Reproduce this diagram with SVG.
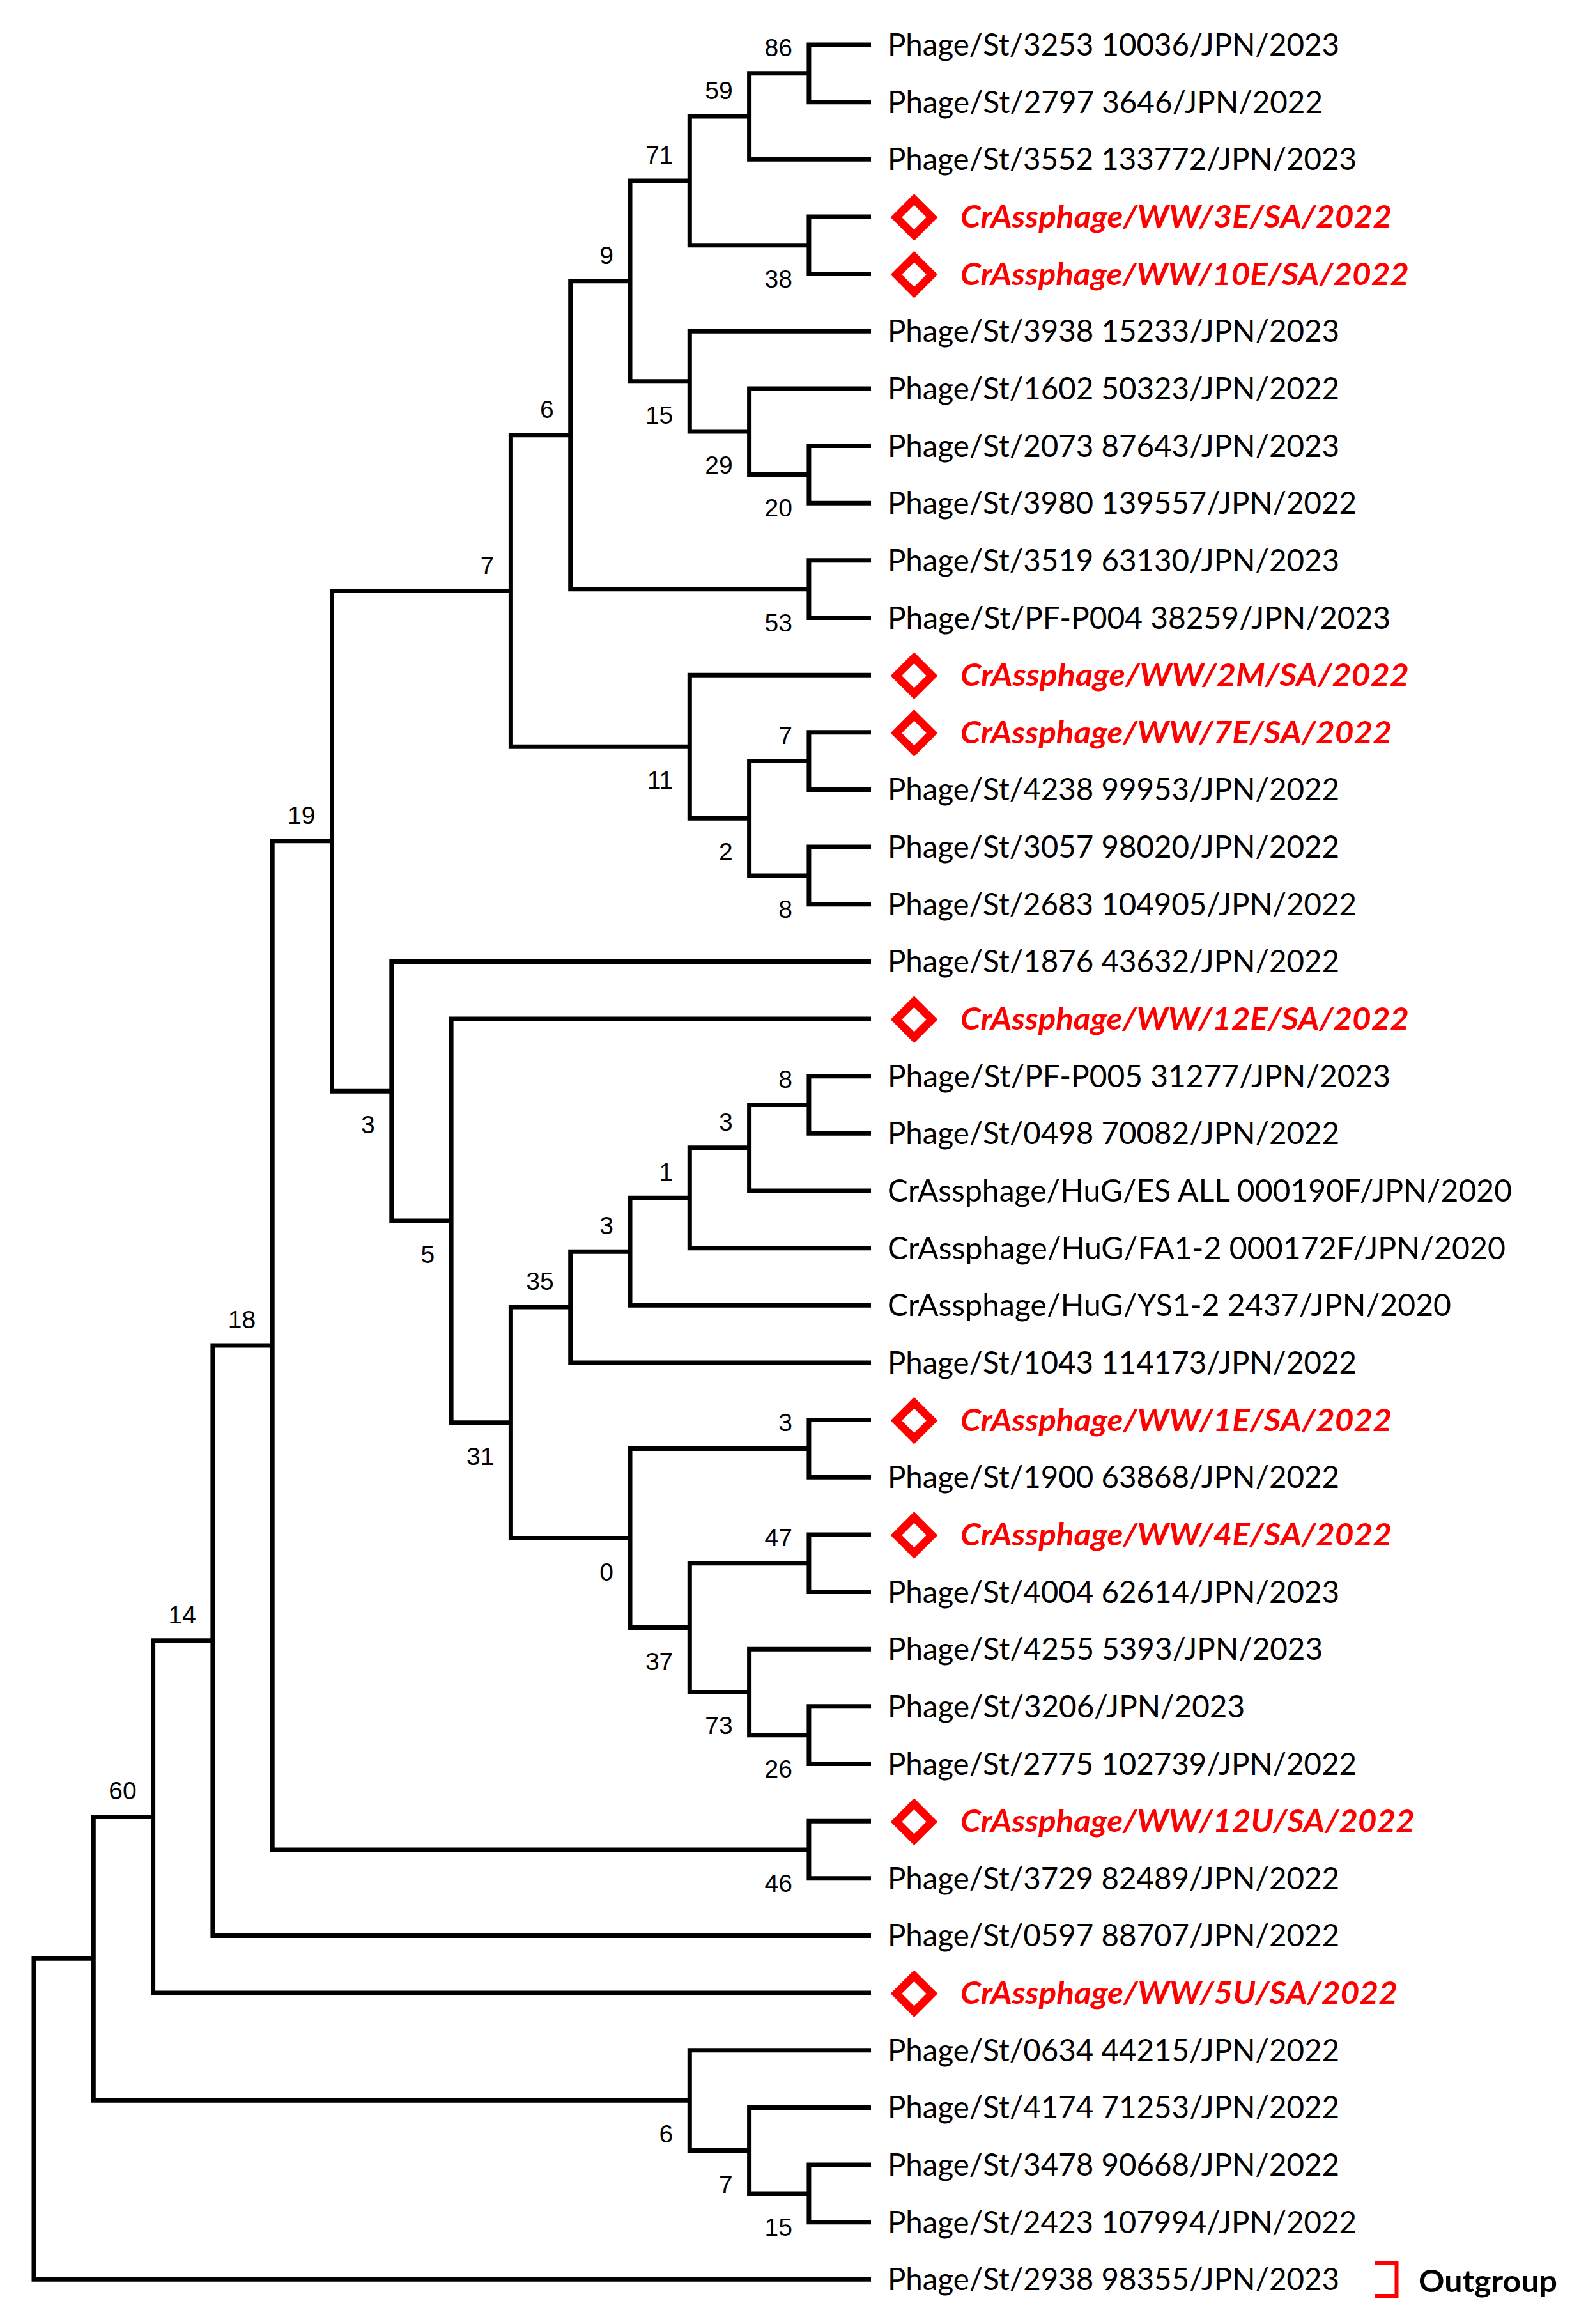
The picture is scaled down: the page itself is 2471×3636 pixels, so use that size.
<svg xmlns="http://www.w3.org/2000/svg" width="2471" height="3636" viewBox="0 0 2471 3636">
<style>
.br{fill:none;stroke:#000;stroke-width:7;stroke-linejoin:miter;stroke-linecap:butt}
.lf{font-family:Lato,"Liberation Sans",sans-serif;font-size:48px;fill:#000}
.rd{font-family:Lato,"Liberation Sans",sans-serif;font-size:48px;font-weight:bold;font-style:italic;fill:#ff0000}
.bs{font-family:"Liberation Sans",Arial,sans-serif;font-size:39px;fill:#000;text-anchor:end}
.dm{fill:none;stroke:#ff0000;stroke-width:12.5;stroke-linejoin:miter}
.og{font-family:Lato,"Liberation Sans",sans-serif;font-size:48px;font-weight:bold;fill:#000}
</style>
<defs>
<path id="dia" class="dm" d="M0 -28 L28 0 L0 28 L-28 0 Z"/>
</defs>
<rect width="2471" height="3636" fill="#fff"/>
<g id="connectors">
<path class="br" d="M1363 70 H1265.9 V159.65 H1363"/>
<path class="br" d="M1265.9 114.8 H1172.6 V249.3 H1363"/>
<path class="br" d="M1363 338.95 H1265.9 V428.6 H1363"/>
<path class="br" d="M1172.6 182.1 H1079.3 V383.8 H1265.9"/>
<path class="br" d="M1363 697.55 H1265.9 V787.2 H1363"/>
<path class="br" d="M1363 607.9 H1172.6 V742.4 H1265.9"/>
<path class="br" d="M1363 518.25 H1079.3 V675.1 H1172.6"/>
<path class="br" d="M1079.3 282.9 H986 V596.7 H1079.3"/>
<path class="br" d="M1363 876.85 H1265.9 V966.5 H1363"/>
<path class="br" d="M986 439.8 H892.7 V921.7 H1265.9"/>
<path class="br" d="M1363 1145.8 H1265.9 V1235.45 H1363"/>
<path class="br" d="M1363 1325.1 H1265.9 V1414.75 H1363"/>
<path class="br" d="M1265.9 1190.6 H1172.6 V1369.9 H1265.9"/>
<path class="br" d="M1363 1056.15 H1079.3 V1280.3 H1172.6"/>
<path class="br" d="M892.7 680.7 H799.4 V1168.2 H1079.3"/>
<path class="br" d="M1363 1683.7 H1265.9 V1773.35 H1363"/>
<path class="br" d="M1265.9 1728.5 H1172.6 V1863 H1363"/>
<path class="br" d="M1172.6 1795.8 H1079.3 V1952.65 H1363"/>
<path class="br" d="M1079.3 1874.2 H986 V2042.3 H1363"/>
<path class="br" d="M986 1958.3 H892.7 V2131.95 H1363"/>
<path class="br" d="M1363 2221.6 H1265.9 V2311.25 H1363"/>
<path class="br" d="M1363 2400.9 H1265.9 V2490.55 H1363"/>
<path class="br" d="M1363 2669.85 H1265.9 V2759.5 H1363"/>
<path class="br" d="M1363 2580.2 H1172.6 V2714.7 H1265.9"/>
<path class="br" d="M1265.9 2445.7 H1079.3 V2647.4 H1172.6"/>
<path class="br" d="M1265.9 2266.4 H986 V2546.6 H1079.3"/>
<path class="br" d="M892.7 2045.1 H799.4 V2406.5 H986"/>
<path class="br" d="M1363 1594.05 H706.1 V2225.8 H799.4"/>
<path class="br" d="M1363 1504.4 H612.8 V1909.9 H706.1"/>
<path class="br" d="M799.4 924.5 H519.5 V1707.2 H612.8"/>
<path class="br" d="M1363 2849.15 H1265.9 V2938.8 H1363"/>
<path class="br" d="M519.5 1315.8 H426.2 V2894 H1265.9"/>
<path class="br" d="M426.2 2104.9 H332.9 V3028.45 H1363"/>
<path class="br" d="M332.9 2566.7 H239.6 V3118.1 H1363"/>
<path class="br" d="M1363 3387.05 H1265.9 V3476.7 H1363"/>
<path class="br" d="M1363 3297.4 H1172.6 V3431.9 H1265.9"/>
<path class="br" d="M1363 3207.75 H1079.3 V3364.6 H1172.6"/>
<path class="br" d="M239.6 2842.4 H146.3 V3286.2 H1079.3"/>
<path class="br" d="M146.3 3064.3 H53 V3566.35 H1363"/>
</g>
<g id="support">
<g id="n86"><text class="bs" x="1240" y="88">86</text></g>
<g id="n59"><text class="bs" x="1146.6" y="155">59</text></g>
<g id="n71"><text class="bs" x="1053.3" y="256">71</text></g>
<g id="n38"><text class="bs" x="1240" y="450">38</text></g>
<g id="n9"><text class="bs" x="960" y="413">9</text></g>
<g id="n15a"><text class="bs" x="1053.3" y="663">15</text></g>
<g id="n29"><text class="bs" x="1146.6" y="741">29</text></g>
<g id="n20"><text class="bs" x="1240" y="808">20</text></g>
<g id="n6a"><text class="bs" x="866.7" y="654">6</text></g>
<g id="n53"><text class="bs" x="1240" y="988">53</text></g>
<g id="n7a"><text class="bs" x="773.4" y="897.5">7</text></g>
<g id="n11"><text class="bs" x="1053.3" y="1234">11</text></g>
<g id="n7b"><text class="bs" x="1240" y="1164">7</text></g>
<g id="n2"><text class="bs" x="1146.6" y="1346">2</text></g>
<g id="n8a"><text class="bs" x="1240" y="1436">8</text></g>
<g id="n19"><text class="bs" x="493.5" y="1289">19</text></g>
<g id="n3a"><text class="bs" x="586.8" y="1773">3</text></g>
<g id="n5"><text class="bs" x="680.1" y="1976">5</text></g>
<g id="n8b"><text class="bs" x="1240" y="1701.5">8</text></g>
<g id="n3c"><text class="bs" x="1146.6" y="1769">3</text></g>
<g id="n1"><text class="bs" x="1053.3" y="1847">1</text></g>
<g id="n3b"><text class="bs" x="960" y="1931">3</text></g>
<g id="n35"><text class="bs" x="866.7" y="2018">35</text></g>
<g id="n31"><text class="bs" x="773.4" y="2292">31</text></g>
<g id="n3d"><text class="bs" x="1240" y="2239">3</text></g>
<g id="n0"><text class="bs" x="960" y="2472.5">0</text></g>
<g id="n47"><text class="bs" x="1240" y="2419">47</text></g>
<g id="n37"><text class="bs" x="1053.3" y="2613">37</text></g>
<g id="n73"><text class="bs" x="1146.6" y="2713">73</text></g>
<g id="n26"><text class="bs" x="1240" y="2781">26</text></g>
<g id="n18"><text class="bs" x="400.2" y="2078">18</text></g>
<g id="n46"><text class="bs" x="1240" y="2960">46</text></g>
<g id="n14"><text class="bs" x="306.9" y="2540">14</text></g>
<g id="n60"><text class="bs" x="213.6" y="2815">60</text></g>
<g id="n6b"><text class="bs" x="1053.3" y="3352">6</text></g>
<g id="n7c"><text class="bs" x="1146.6" y="3431">7</text></g>
<g id="n15b"><text class="bs" x="1240" y="3498">15</text></g>
</g>
<g id="leaves">
<g id="leaf1"><text class="lf" x="1389" y="87" textLength="707" lengthAdjust="spacingAndGlyphs">Phage/St/3253 10036/JPN/2023</text></g>
<g id="leaf2"><text class="lf" x="1389" y="176.65" textLength="681" lengthAdjust="spacingAndGlyphs">Phage/St/2797 3646/JPN/2022</text></g>
<g id="leaf3"><text class="lf" x="1389" y="266.3" textLength="734" lengthAdjust="spacingAndGlyphs">Phage/St/3552 133772/JPN/2023</text></g>
<g id="leaf4"><use href="#dia" x="1430.5" y="339.95"/><text class="rd" x="1503" y="355.95" textLength="675" lengthAdjust="spacingAndGlyphs">CrAssphage/WW/3E/SA/2022</text></g>
<g id="leaf5"><use href="#dia" x="1430.5" y="429.6"/><text class="rd" x="1503" y="445.6" textLength="702" lengthAdjust="spacingAndGlyphs">CrAssphage/WW/10E/SA/2022</text></g>
<g id="leaf6"><text class="lf" x="1389" y="535.25" textLength="707" lengthAdjust="spacingAndGlyphs">Phage/St/3938 15233/JPN/2023</text></g>
<g id="leaf7"><text class="lf" x="1389" y="624.9" textLength="707" lengthAdjust="spacingAndGlyphs">Phage/St/1602 50323/JPN/2022</text></g>
<g id="leaf8"><text class="lf" x="1389" y="714.55" textLength="707" lengthAdjust="spacingAndGlyphs">Phage/St/2073 87643/JPN/2023</text></g>
<g id="leaf9"><text class="lf" x="1389" y="804.2" textLength="734" lengthAdjust="spacingAndGlyphs">Phage/St/3980 139557/JPN/2022</text></g>
<g id="leaf10"><text class="lf" x="1389" y="893.85" textLength="707" lengthAdjust="spacingAndGlyphs">Phage/St/3519 63130/JPN/2023</text></g>
<g id="leaf11"><text class="lf" x="1389" y="983.5" textLength="787" lengthAdjust="spacingAndGlyphs">Phage/St/PF-P004 38259/JPN/2023</text></g>
<g id="leaf12"><use href="#dia" x="1430.5" y="1057.15"/><text class="rd" x="1503" y="1073.15" textLength="702" lengthAdjust="spacingAndGlyphs">CrAssphage/WW/2M/SA/2022</text></g>
<g id="leaf13"><use href="#dia" x="1430.5" y="1146.8"/><text class="rd" x="1503" y="1162.8" textLength="675" lengthAdjust="spacingAndGlyphs">CrAssphage/WW/7E/SA/2022</text></g>
<g id="leaf14"><text class="lf" x="1389" y="1252.45" textLength="707" lengthAdjust="spacingAndGlyphs">Phage/St/4238 99953/JPN/2022</text></g>
<g id="leaf15"><text class="lf" x="1389" y="1342.1" textLength="707" lengthAdjust="spacingAndGlyphs">Phage/St/3057 98020/JPN/2022</text></g>
<g id="leaf16"><text class="lf" x="1389" y="1431.75" textLength="734" lengthAdjust="spacingAndGlyphs">Phage/St/2683 104905/JPN/2022</text></g>
<g id="leaf17"><text class="lf" x="1389" y="1521.4" textLength="707" lengthAdjust="spacingAndGlyphs">Phage/St/1876 43632/JPN/2022</text></g>
<g id="leaf18"><use href="#dia" x="1430.5" y="1595.05"/><text class="rd" x="1503" y="1611.05" textLength="702" lengthAdjust="spacingAndGlyphs">CrAssphage/WW/12E/SA/2022</text></g>
<g id="leaf19"><text class="lf" x="1389" y="1700.7" textLength="787" lengthAdjust="spacingAndGlyphs">Phage/St/PF-P005 31277/JPN/2023</text></g>
<g id="leaf20"><text class="lf" x="1389" y="1790.35" textLength="707" lengthAdjust="spacingAndGlyphs">Phage/St/0498 70082/JPN/2022</text></g>
<g id="leaf21"><text class="lf" x="1389" y="1880" textLength="977" lengthAdjust="spacingAndGlyphs">CrAssphage/HuG/ES ALL 000190F/JPN/2020</text></g>
<g id="leaf22"><text class="lf" x="1389" y="1969.65" textLength="967" lengthAdjust="spacingAndGlyphs">CrAssphage/HuG/FA1-2 000172F/JPN/2020</text></g>
<g id="leaf23"><text class="lf" x="1389" y="2059.3" textLength="882" lengthAdjust="spacingAndGlyphs">CrAssphage/HuG/YS1-2 2437/JPN/2020</text></g>
<g id="leaf24"><text class="lf" x="1389" y="2148.95" textLength="734" lengthAdjust="spacingAndGlyphs">Phage/St/1043 114173/JPN/2022</text></g>
<g id="leaf25"><use href="#dia" x="1430.5" y="2222.6"/><text class="rd" x="1503" y="2238.6" textLength="675" lengthAdjust="spacingAndGlyphs">CrAssphage/WW/1E/SA/2022</text></g>
<g id="leaf26"><text class="lf" x="1389" y="2328.25" textLength="707" lengthAdjust="spacingAndGlyphs">Phage/St/1900 63868/JPN/2022</text></g>
<g id="leaf27"><use href="#dia" x="1430.5" y="2401.9"/><text class="rd" x="1503" y="2417.9" textLength="675" lengthAdjust="spacingAndGlyphs">CrAssphage/WW/4E/SA/2022</text></g>
<g id="leaf28"><text class="lf" x="1389" y="2507.55" textLength="707" lengthAdjust="spacingAndGlyphs">Phage/St/4004 62614/JPN/2023</text></g>
<g id="leaf29"><text class="lf" x="1389" y="2597.2" textLength="681" lengthAdjust="spacingAndGlyphs">Phage/St/4255 5393/JPN/2023</text></g>
<g id="leaf30"><text class="lf" x="1389" y="2686.85" textLength="559" lengthAdjust="spacingAndGlyphs">Phage/St/3206/JPN/2023</text></g>
<g id="leaf31"><text class="lf" x="1389" y="2776.5" textLength="734" lengthAdjust="spacingAndGlyphs">Phage/St/2775 102739/JPN/2022</text></g>
<g id="leaf32"><use href="#dia" x="1430.5" y="2850.15"/><text class="rd" x="1503" y="2866.15" textLength="711" lengthAdjust="spacingAndGlyphs">CrAssphage/WW/12U/SA/2022</text></g>
<g id="leaf33"><text class="lf" x="1389" y="2955.8" textLength="707" lengthAdjust="spacingAndGlyphs">Phage/St/3729 82489/JPN/2022</text></g>
<g id="leaf34"><text class="lf" x="1389" y="3045.45" textLength="707" lengthAdjust="spacingAndGlyphs">Phage/St/0597 88707/JPN/2022</text></g>
<g id="leaf35"><use href="#dia" x="1430.5" y="3119.1"/><text class="rd" x="1503" y="3135.1" textLength="684" lengthAdjust="spacingAndGlyphs">CrAssphage/WW/5U/SA/2022</text></g>
<g id="leaf36"><text class="lf" x="1389" y="3224.75" textLength="707" lengthAdjust="spacingAndGlyphs">Phage/St/0634 44215/JPN/2022</text></g>
<g id="leaf37"><text class="lf" x="1389" y="3314.4" textLength="707" lengthAdjust="spacingAndGlyphs">Phage/St/4174 71253/JPN/2022</text></g>
<g id="leaf38"><text class="lf" x="1389" y="3404.05" textLength="707" lengthAdjust="spacingAndGlyphs">Phage/St/3478 90668/JPN/2022</text></g>
<g id="leaf39"><text class="lf" x="1389" y="3493.7" textLength="734" lengthAdjust="spacingAndGlyphs">Phage/St/2423 107994/JPN/2022</text></g>
<g id="leaf40"><text class="lf" x="1389" y="3583.35" textLength="707" lengthAdjust="spacingAndGlyphs">Phage/St/2938 98355/JPN/2023</text></g>
</g>
<g id="outgroup">
<path d="M2152 3540 H2185.5 V3592 H2152" fill="none" stroke="#ff0000" stroke-width="6"/>
<text class="og" x="2220" y="3586" textLength="217" lengthAdjust="spacingAndGlyphs">Outgroup</text>
</g>
</svg>
